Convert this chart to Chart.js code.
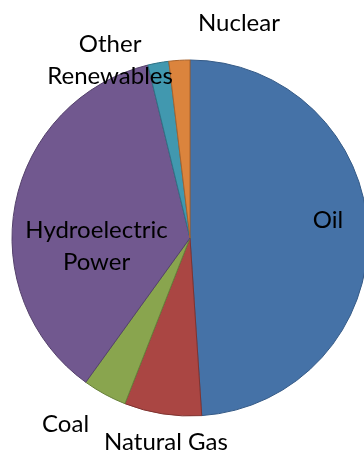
<!DOCTYPE html>
<html>
<head>
<meta charset="utf-8">
<script src="https://cdn.jsdelivr.net/npm/chart.js@4/dist/chart.umd.min.js"></script>
<style>
html,body{margin:0;padding:0;background:#fff;}
#wrap{width:364px;height:451px;position:relative;}
</style>
</head>
<body>
<div id="wrap"><canvas id="c" width="364" height="451"></canvas></div>
<script>
const categories = ["Oil", "Natural Gas", "Coal", "Hydroelectric Power", "Other Renewables", "Nuclear"];
const shares = [48.9, 7.0, 4.0, 36.2, 1.9, 1.9];
const fillColors = ["#4572A7", "#AA4643", "#89A54E", "#71588F", "#4198AF", "#DB843D"];
const edgeColors = ["#355a86", "#7f3330", "#67803a", "#54416b", "#2f7286", "#a8632c"];
const labelLines = [["Oil"], ["Natural Gas"], ["Coal"], ["Hydroelectric", "Power"], ["Other", "Renewables"], ["Nuclear"]];

// label placement (first baseline) relative to pie centre, in units of the outer radius
const labelPlacement = [
  [0.775, -0.056], [-0.135, 1.191], [-0.699, 1.090], [-0.525, 0.0], [-0.449, -1.045], [0.275, -1.163]
];

const labelPlugin = {
  id: 'sliceLabels',
  afterDatasetsDraw(chart) {
    const ctx = chart.ctx;
    const meta = chart.getDatasetMeta(0);
    const arc0 = meta.data[0];
    const cx = arc0.x, cy = arc0.y, r = arc0.outerRadius;
    ctx.save();
    ctx.fillStyle = '#000';
    ctx.font = '24px Lato';
    ctx.textAlign = 'center';
    ctx.textBaseline = 'alphabetic';
    const lh = 32;
    labelLines.forEach((lines, i) => {
      const x = cx + labelPlacement[i][0] * r;
      const y = cy + labelPlacement[i][1] * r;
      lines.forEach((t, j) => ctx.fillText(t, x, y + j * lh));
    });
    ctx.restore();
  }
};

new Chart(document.getElementById('c'), {
  type: 'pie',
  data: {
    labels: categories,
    datasets: [{
      data: shares,
      backgroundColor: fillColors,
      borderColor: edgeColors,
      borderWidth: 1,
      radius: 178
    }]
  },
  options: {
    responsive: false,
    animation: false,
    layout: { padding: { left: 16, right: 0, top: 25, bottom: 0 } },
    plugins: { legend: { display: false }, tooltip: { enabled: false } }
  },
  plugins: [labelPlugin]
});
</script>
</body>
</html>
